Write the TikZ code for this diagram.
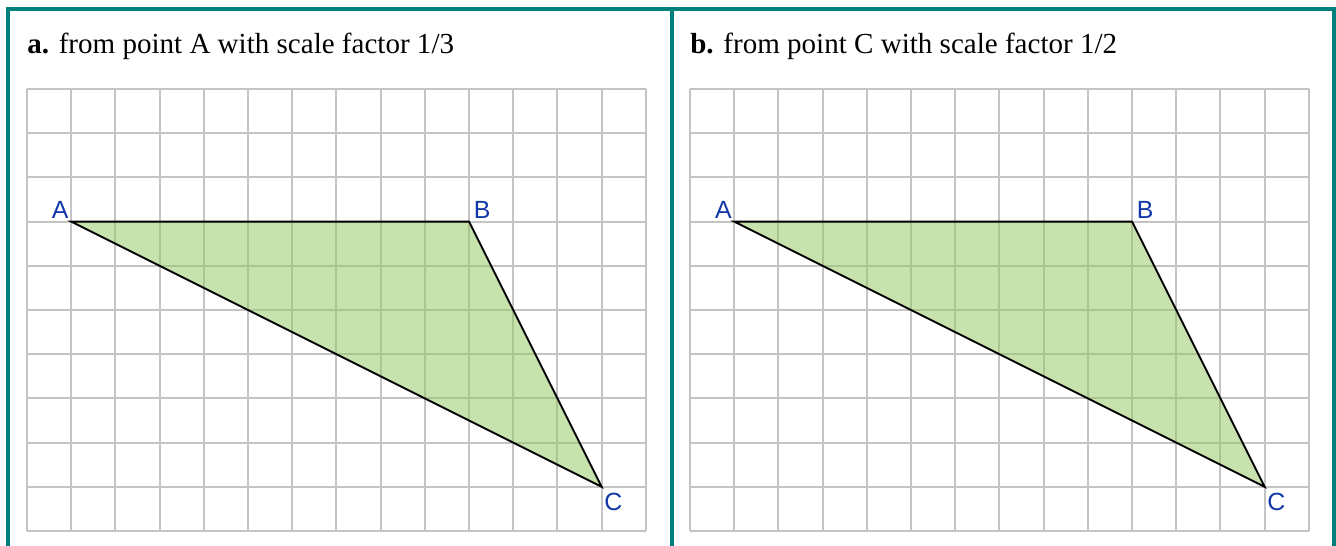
\documentclass[tikz,border=0pt]{standalone}
\usepackage{fontspec}
\setmainfont{Liberation Serif}
\newfontfamily\labelfont{Liberation Sans}
\usetikzlibrary{positioning}

\definecolor{frameteal}{RGB}{0,128,124}
\definecolor{gridgray}{RGB}{196,196,196}
\definecolor{trigreen}{RGB}{146,198,92}
\definecolor{ptblue}{RGB}{16,56,168}

\begin{document}
\begin{tikzpicture}[
    frame/.style={draw=frameteal, line width=2.6pt, line join=miter},
    gridline/.style={draw=gridgray, line width=1.2pt},
    tri/.style={draw=black, line width=1.2pt, fill=trigreen, fill opacity=0.5, line join=miter},
    title/.style={anchor=base west, inner sep=0pt, font=\fontsize{18.7}{22}\selectfont},
    pt/.style={font=\labelfont\fontsize{16}{18}\selectfont, text=ptblue, inner sep=1.5pt}
]

\useasboundingbox (-0.611,-0.339) rectangle (29.615,12.013);

% outer frame and divider
\draw[frame] (-0.43,-0.6) -- (-0.43,11.81) -- (29.56,11.81) -- (29.56,-0.6);
\draw[frame] (14.59,11.81) -- (14.59,-0.6);

% panel a
\node[title] (titleA) at (0,10.81) {\textbf{a.} from point A with scale factor 1/3};
\draw[gridline] (0,0) grid (14,10);
\coordinate (aA) at (1,7);
\coordinate (aB) at (10,7);
\coordinate (aC) at (13,1);
\draw[tri] (aA) -- (aB) -- (aC) -- cycle;
\node[pt, anchor=south east] (labAa) at (aA) {A};
\node[pt, anchor=south west, xshift=1.5pt] (labBa) at (aB) {B};
\node[pt, anchor=north west, yshift=-2.5pt] (labCa) at (aC) {C};

% panel b
\node[title] (titleB) at (15,10.81) {\textbf{b.} from point C with scale factor 1/2};
\draw[gridline] (15,0) grid (29,10);
\coordinate (bA) at (16,7);
\coordinate (bB) at (25,7);
\coordinate (bC) at (28,1);
\draw[tri] (bA) -- (bB) -- (bC) -- cycle;
\node[pt, anchor=south east] (labAb) at (bA) {A};
\node[pt, anchor=south west, xshift=1.5pt] (labBb) at (bB) {B};
\node[pt, anchor=north west, yshift=-2.5pt] (labCb) at (bC) {C};

\end{tikzpicture}
\end{document}
